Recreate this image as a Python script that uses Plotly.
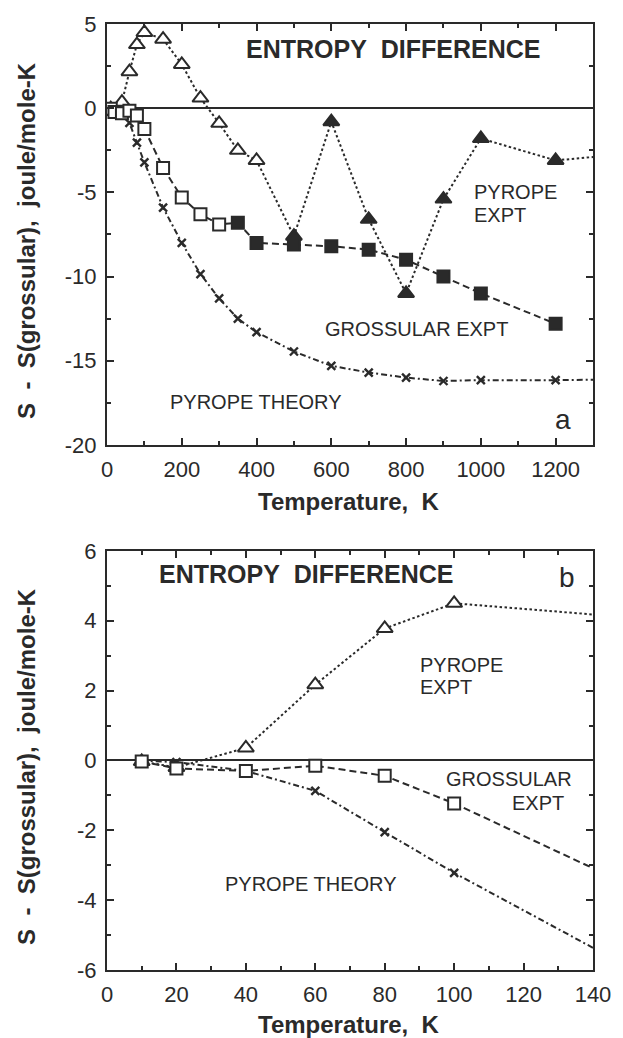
import plotly.graph_objects as go

# ---------------- data ----------------
T_pyrope = [10, 20, 40, 60, 80, 100, 150, 200, 250, 300, 350, 400, 500, 600, 700, 800, 900, 1000, 1200, 1400]
S_pyrope = [-0.03, -0.2, 0.36, 2.17, 3.78, 4.5, 4.1, 2.6, 0.6, -0.9, -2.5, -3.1, -7.6, -0.8, -6.6, -11.0, -5.4, -1.8, -3.1, -2.7]

T_gross = [10, 20, 40, 60, 80, 100, 150, 200, 250, 300, 350, 400, 500, 600, 700, 800, 900, 1000, 1200]
S_gross = [-0.03, -0.23, -0.3, -0.15, -0.44, -1.23, -3.55, -5.3, -6.3, -6.9, -6.8, -8.0, -8.1, -8.2, -8.4, -9.0, -10.0, -11.0, -12.8]

T_theory = [10, 20, 40, 60, 80, 100, 150, 200, 250, 300, 350, 400, 500, 600, 700, 800, 900, 1000, 1200, 1400]
S_theory = [0.0, -0.05, -0.3, -0.87, -2.05, -3.22, -5.9, -8.0, -9.85, -11.3, -12.5, -13.3, -14.45, -15.3, -15.7, -16.0, -16.2, -16.15, -16.15, -16.1]

# temperatures from which the experimental symbols are drawn filled
PYROPE_FILLED_FROM = 500
GROSS_FILLED_FROM = 350

# tick labels
xticks_a = [0, 200, 400, 600, 800, 1000, 1200]
yticks_a = [5, 0, -5, -10, -15, -20]
xticks_b = [0, 20, 40, 60, 80, 100, 120, 140]
yticks_b = [6, 4, 2, 0, -2, -4, -6]

# ---------------- styling ----------------
INK = "#2a2a2a"
FONT = "Liberation Sans, Arial, Helvetica, sans-serif"


def fills(T, start):
    return [INK if t >= start else "white" for t in T]


fig = go.Figure()

for xa, ya in (("x", "y"), ("x2", "y2")):
    fig.add_trace(go.Scatter(
        x=T_theory, y=S_theory, mode="lines+markers", xaxis=xa, yaxis=ya,
        line=dict(color=INK, width=2, dash="6px,3px,2px,3px"),
        marker=dict(symbol="x-thin", size=8, color=INK, line=dict(color=INK, width=2.4)),
        showlegend=False, cliponaxis=True))
    fig.add_trace(go.Scatter(
        x=T_pyrope, y=S_pyrope, mode="lines+markers", xaxis=xa, yaxis=ya,
        line=dict(color=INK, width=2, dash="2.5px,2.5px"),
        marker=dict(symbol="triangle-up", size=14, color=fills(T_pyrope, PYROPE_FILLED_FROM),
                    line=dict(color=INK, width=2)),
        showlegend=False, cliponaxis=True))
    fig.add_trace(go.Scatter(
        x=T_gross, y=S_gross, mode="lines+markers", xaxis=xa, yaxis=ya,
        line=dict(color=INK, width=2, dash="7px,4px"),
        marker=dict(symbol="square", size=12, color=fills(T_gross, GROSS_FILLED_FROM),
                    line=dict(color=INK, width=2)),
        showlegend=False, cliponaxis=True))


def axis_common(**kw):
    d = dict(showline=True, linecolor=INK, linewidth=2, mirror="ticks",
             ticks="inside", ticklen=7, tickwidth=1.5, tickcolor=INK,
             showgrid=False, tickfont=dict(family=FONT, size=22, color=INK),
             minor=dict(ticks="inside", ticklen=4, tickwidth=1.5, tickcolor=INK))
    d.update(kw)
    return d


fig.update_layout(
    width=623, height=1038,
    margin=dict(l=107, r=23, t=15, b=68),
    paper_bgcolor="white", plot_bgcolor="white",
    font=dict(family=FONT, color=INK),
    xaxis=axis_common(domain=[0, 1], range=[0, 1300], anchor="y", zeroline=False,
                      tickvals=xticks_a, ticktext=[str(v) for v in xticks_a],
                      minor_dtick=100, minor_tick0=0, ticklabelstandoff=4),
    yaxis=axis_common(domain=[0.555, 1.0], range=[-20, 5], anchor="x",
                      zeroline=True, zerolinecolor=INK, zerolinewidth=1.8,
                      tickvals=yticks_a, ticktext=[str(v) for v in yticks_a],
                      minor_dtick=2.5, minor_tick0=0, ticklabelstandoff=4),
    xaxis2=axis_common(domain=[0, 1], range=[0, 140], anchor="y2", zeroline=False,
                       tickvals=xticks_b, ticktext=[str(v) for v in xticks_b],
                       minor_dtick=10, minor_tick0=0, ticklabelstandoff=4),
    yaxis2=axis_common(domain=[0.0, 0.443], range=[-6, 6], anchor="x2",
                       zeroline=True, zerolinecolor=INK, zerolinewidth=1.8,
                       tickvals=yticks_b, ticktext=[str(v) for v in yticks_b],
                       minor_dtick=1, minor_tick0=0, ticklabelstandoff=4),
)

NB = "\u00a0"
ann = []


def txt(text, x, y, xref, yref, size=20, bold=False, xanchor="center", align="center", angle=0):
    t = "<b>" + text + "</b>" if bold else text
    ann.append(dict(text=t, x=x, y=y, xref=xref, yref=yref, showarrow=False,
                    xanchor=xanchor, yanchor="middle", align=align, textangle=angle,
                    font=dict(family=FONT, size=size, color=INK)))


# panel a
txt("ENTROPY" + NB + " DIFFERENCE", 765, 3.53, "x", "y", size=25, bold=True)
txt("PYROPE", 976, -5.0, "x", "y", size=20, xanchor="left")
txt("EXPT", 976, -6.35, "x", "y", size=20, xanchor="left")
txt("GROSSULAR EXPT", 827, -13.1, "x", "y", size=20)
txt("PYROPE THEORY", 398, -17.47, "x", "y", size=20)
txt("a", 1221, -18.5, "x", "y", size=28)
# panel b
txt("ENTROPY" + NB + " DIFFERENCE", 57.2, 5.35, "x2", "y2", size=25, bold=True)
txt("b", 132.6, 5.23, "x2", "y2", size=28)
txt("PYROPE", 89.5, 2.74, "x2", "y2", size=20, xanchor="left")
txt("EXPT", 89.5, 2.11, "x2", "y2", size=20, xanchor="left")
txt("GROSSULAR", 134.6, -0.525, "x2", "y2", size=20, xanchor="right")
txt("EXPT", 132.3, -1.23, "x2", "y2", size=20, xanchor="right")
txt("PYROPE THEORY", 58.9, -3.53, "x2", "y2", size=20)

# axis titles
ytitle = "S" + NB + " -" + NB + " S(grossular)," + NB + " joule/mole-K"
xtitle = "Temperature," + NB + " K"
txt(xtitle, 0.497, 0.495, "paper", "paper", size=24, bold=True)
txt(xtitle, 0.497, -0.0575, "paper", "paper", size=24, bold=True)
txt(ytitle, -0.166, 0.771, "paper", "paper", size=24, bold=True, angle=-90)
txt(ytitle, -0.166, 0.215, "paper", "paper", size=24, bold=True, angle=-90)

fig.update_layout(annotations=ann)

fig.write_html("out.html",
               config={"displayModeBar": False},
               post_script="document.body.style.margin='0';document.body.style.overflow='hidden';")
